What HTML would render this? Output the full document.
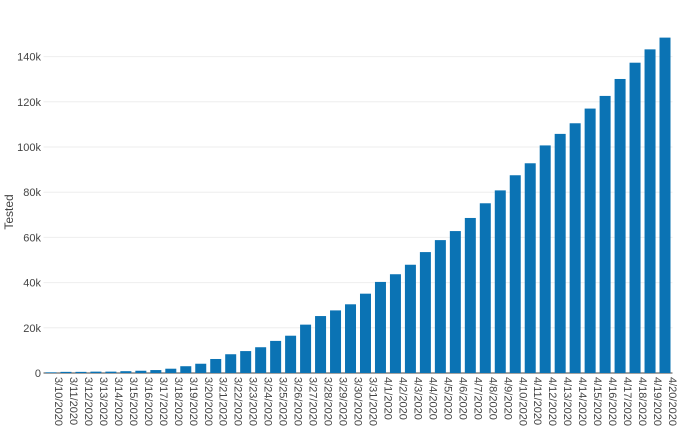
<!DOCTYPE html>
<html><head><meta charset="utf-8"><style>
body{margin:0;background:#fff;font-family:"Liberation Sans",sans-serif}
svg text{font-family:"Liberation Sans",sans-serif;fill:#444;font-size:11px}
</style></head><body>
<svg width="680" height="437">
<g id="grid"></g><g id="bars"></g><g id="xt"></g><g id="yt"></g>
<text transform="translate(13,212) rotate(-90)" text-anchor="middle" style="font-size:12px">Tested</text>
</svg>
<script>
const categories=["3/10/2020","3/11/2020","3/12/2020","3/13/2020","3/14/2020","3/15/2020","3/16/2020","3/17/2020","3/18/2020","3/19/2020","3/20/2020","3/21/2020","3/22/2020","3/23/2020","3/24/2020","3/25/2020","3/26/2020","3/27/2020","3/28/2020","3/29/2020","3/30/2020","3/31/2020","4/1/2020","4/2/2020","4/3/2020","4/4/2020","4/5/2020","4/6/2020","4/7/2020","4/8/2020","4/9/2020","4/10/2020","4/11/2020","4/12/2020","4/13/2020","4/14/2020","4/15/2020","4/16/2020","4/17/2020","4/18/2020","4/19/2020","4/20/2020"];
const tested=[300,500,500,600,600,800,1000,1300,1900,3000,4100,6200,8300,9700,11400,14200,16500,21400,25200,27700,30400,35100,40300,43700,47900,53500,58800,62800,68600,75100,80800,87500,92800,100700,105800,110500,117000,122600,130100,137300,143200,148400];
const yTicks=[0,20000,40000,60000,80000,100000,120000,140000];
const yLabels=["0","20k","40k","60k","80k","100k","120k","140k"];
const NS="http://www.w3.org/2000/svg";
const x0=43.5,x1=672.5,y0=373,pxPer=45.2/20000;
const step=(x1-x0)/categories.length;
const xs=i=>x0+step*(i+0.5), ys=v=>y0-v*pxPer;
function mk(t,a,p){const e=document.createElementNS(NS,t);for(const k in a)e.setAttribute(k,a[k]);document.getElementById(p).appendChild(e);return e;}
yTicks.forEach((v,i)=>{
 const l=mk('line',{x1:x0,x2:x1,y1:ys(v),y2:ys(v),stroke:i==0?'#444':'#eee','stroke-width':1},'grid');
 
 
 const t=mk('text',{x:41,y:ys(v)+4,'text-anchor':'end'},'yt');t.textContent=yLabels[i];
 
 
});
tested.forEach((v,i)=>{
 const r=mk('rect',{x:xs(i)-5.5,y:ys(v),width:11,height:y0-ys(v),fill:'#0b73b4'},'bars');
 
 
});
categories.forEach((c,i)=>{
 const t=mk('text',{transform:`translate(${xs(i)+4},377) rotate(90)`,'text-anchor':'start'},'xt');t.textContent=c;
 
 
});
</script>
</body></html>
